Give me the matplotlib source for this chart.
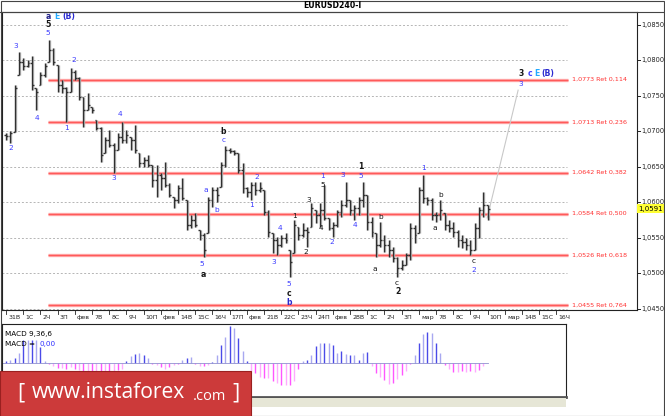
import matplotlib
matplotlib.use('Agg')
import matplotlib.pyplot as plt
import numpy as np
from matplotlib.patches import Rectangle
from matplotlib.transforms import blended_transform_factory

W, H = 665, 416

# EURUSD H4 bars
highs = [1.0698, 1.0700, 1.0765, 1.0812, 1.0803, 1.0800, 1.0806, 1.0761, 1.0784, 1.0796,
         1.0829, 1.0817, 1.0793, 1.0772, 1.0762, 1.0789, 1.0786, 1.0777, 1.0748, 1.0754,
         1.0734, 1.0716, 1.0706, 1.0692, 1.0702, 1.0684, 1.0698, 1.0713, 1.0702, 1.0692,
         1.0709, 1.0669, 1.0664, 1.0667, 1.0653, 1.0653, 1.0641, 1.0657, 1.0627, 1.0607,
         1.0624, 1.0634, 1.0603, 1.0582, 1.0585, 1.0561, 1.0557, 1.0607, 1.0622, 1.0622,
         1.0657, 1.0679, 1.0677, 1.0674, 1.0669, 1.0655, 1.0622, 1.0629, 1.0629, 1.0629,
         1.0617, 1.0589, 1.0557, 1.0551, 1.0554, 1.0557, 1.0533, 1.0575, 1.0565, 1.0571,
         1.0565, 1.0599, 1.0589, 1.0599, 1.0624, 1.0578, 1.0572, 1.0589, 1.0603, 1.0629,
         1.0603, 1.0596, 1.0607, 1.0629, 1.0610, 1.0579, 1.0557, 1.0572, 1.0554, 1.0547,
         1.0537, 1.0523, 1.0519, 1.0529, 1.0571, 1.0568, 1.0622, 1.0639, 1.0607, 1.0606,
         1.0586, 1.0603, 1.0585, 1.0575, 1.0572, 1.0561, 1.0554, 1.0550, 1.0547, 1.0571,
         1.0593, 1.0615, 1.0596]
lows = [1.0688, 1.0684, 1.0699, 1.0779, 1.0786, 1.0791, 1.0758, 1.0730, 1.0765, 1.0777,
        1.0798, 1.0793, 1.0755, 1.0754, 1.0713, 1.0755, 1.0772, 1.0744, 1.0706, 1.0730,
        1.0726, 1.0702, 1.0657, 1.0669, 1.0678, 1.0641, 1.0674, 1.0684, 1.0684, 1.0674,
        1.0669, 1.0650, 1.0650, 1.0650, 1.0622, 1.0607, 1.0617, 1.0622, 1.0607, 1.0592,
        1.0599, 1.0603, 1.0561, 1.0564, 1.0565, 1.0547, 1.0523, 1.0557, 1.0593, 1.0600,
        1.0622, 1.0650, 1.0669, 1.0667, 1.0641, 1.0613, 1.0607, 1.0603, 1.0610, 1.0615,
        1.0582, 1.0551, 1.0529, 1.0526, 1.0537, 1.0543, 1.0495, 1.0529, 1.0547, 1.0551,
        1.0537, 1.0565, 1.0571, 1.0565, 1.0575, 1.0561, 1.0551, 1.0565, 1.0579, 1.0593,
        1.0582, 1.0575, 1.0582, 1.0593, 1.0561, 1.0551, 1.0523, 1.0537, 1.0530, 1.0523,
        1.0516, 1.0495, 1.0505, 1.0512, 1.0519, 1.0543, 1.0557, 1.0599, 1.0596, 1.0575,
        1.0572, 1.0575, 1.0561, 1.0558, 1.0551, 1.0537, 1.0536, 1.0533, 1.0526, 1.0533,
        1.0550, 1.0579, 1.0575]
closes = [1.0693, 1.0698, 1.0761, 1.0798, 1.0792, 1.0796, 1.0765, 1.0755, 1.0779, 1.0792,
          1.0815, 1.0798, 1.0765, 1.0761, 1.0755, 1.0784, 1.0775, 1.0748, 1.0730, 1.0737,
          1.0730, 1.0705, 1.0667, 1.0688, 1.0681, 1.0674, 1.0692, 1.0688, 1.0695, 1.0688,
          1.0674, 1.0655, 1.0660, 1.0653, 1.0631, 1.0639, 1.0634, 1.0624, 1.0610, 1.0603,
          1.0620, 1.0606, 1.0568, 1.0575, 1.0568, 1.0554, 1.0533, 1.0603, 1.0617, 1.0610,
          1.0653, 1.0674, 1.0672, 1.0669, 1.0646, 1.0620, 1.0615, 1.0624, 1.0617, 1.0620,
          1.0586, 1.0558, 1.0547, 1.0540, 1.0550, 1.0547, 1.0516, 1.0568, 1.0554, 1.0561,
          1.0558, 1.0592, 1.0582, 1.0589, 1.0578, 1.0564, 1.0568, 1.0586, 1.0596, 1.0603,
          1.0589, 1.0592, 1.0603, 1.0610, 1.0572, 1.0558, 1.0540, 1.0547, 1.0540, 1.0533,
          1.0522, 1.0508, 1.0512, 1.0526, 1.0564, 1.0554, 1.0617, 1.0606, 1.0603, 1.0582,
          1.0582, 1.0589, 1.0568, 1.0564, 1.0558, 1.0547, 1.0544, 1.0540, 1.0533, 1.0564,
          1.0589, 1.0596, 1.0591]

# MACD(9,36,6) histogram, same bars
macd = [2, 3, 5, 10, 23, 23, 23, 23, 16, 2,
        -1, -3, -5, -5, -6, -4, -6, -7, -8, -9,
        -9, -9, -8, -8, -8, -8, -7, -6, 2, 7,
        9, 10, 8, 5, -1, -2, -4, -6, -4, -2,
        -1, 3, 5, 6, -1, -3, -3, -2, 1, 8,
        18, 26, 37, 35, 25, 12, 2, -8, -10, -14,
        -15, -15, -18, -20, -22, -22, -22, -18, -6, 2,
        3, 8, 17, 20, 20, 20, 18, 10, 12, 9,
        8, 8, 3, 10, 11, -3, -10, -14, -17, -21,
        -20, -16, -12, -8, -1, 8, 20, 29, 31, 30,
        20, 10, -2, -6, -9, -9, -8, -9, -8, -9,
        -7, -3, 0]

date_labels = ['31В', '1С', '2Ч', '3П', 'фев', '7В', '8С', '9Ч', '10П', 'фев', '14В',
               '15С', '16Ч', '17П', 'фев', '21В', '22С', '23Ч', '24П', 'фев', '28В',
               '1С', '2Ч', '3П', 'мар', '7В', '8С', '9Ч', '10П', 'мар', '14В', '15С', '16Ч']
price_ticks = [1.0450, 1.0500, 1.0550, 1.0600, 1.0650, 1.0700, 1.0750, 1.0800, 1.0850]
fib_levels = [1.0773, 1.0713, 1.0642, 1.0584, 1.0526, 1.0455]
fib_ratios = ['0,114', '0,236', '0,382', '0,500', '0,618', '0,764']
last_price = 1.0591
proj_x = [111.9, 119.1]
proj_y = [1.0578, 1.0758]

BLUE, BLK, CYAN = '#3b3bff', '#151515', '#22aaff'
# (bar, price, text, colour, bold)
waves = [
    (1.2, 1.0677, '2', BLUE, False), (2.3, 1.0820, '3', BLUE, False),
    (7.2, 1.0719, '4', BLUE, False), (9.8, 1.0839, '5', BLUE, False),
    (9.8, 1.0851, '5', BLK, True), (9.8, 1.0862, 'a', '#20208a', True),
    (11.9, 1.0862, 'E', CYAN, True), (14.7, 1.0862, '(B)', '#2a2ad0', True),
    (14.0, 1.0705, '1', BLUE, False), (15.8, 1.0800, '2', BLUE, False),
    (25.1, 1.0634, '3', BLUE, False), (26.5, 1.0724, '4', BLUE, False),
    (50.5, 1.0700, 'b', BLK, True), (50.5, 1.0688, 'c', BLUE, False),
    (46.5, 1.0617, 'a', BLUE, False), (49.1, 1.0589, 'b', BLUE, False),
    (45.6, 1.0513, '5', BLUE, False), (45.8, 1.0499, 'a', BLK, True),
    (58.4, 1.0636, '2', BLUE, False), (57.2, 1.0596, '1', BLUE, False),
    (63.7, 1.0564, '4', BLUE, False), (62.3, 1.0516, '3', BLUE, False),
    (65.8, 1.0485, '5', BLUE, False), (65.8, 1.0472, 'c', BLK, True),
    (65.8, 1.0459, 'b', '#2a2ad0', True),
    (67.2, 1.0581, '1', BLK, False), (69.8, 1.0530, '2', BLK, False),
    (70.5, 1.0603, '3', BLK, False), (73.3, 1.0564, '4', BLK, False),
    (73.7, 1.0637, '1', BLUE, False), (73.7, 1.0624, '5', BLK, False),
    (75.8, 1.0544, '2', BLUE, False), (78.4, 1.0639, '3', BLUE, False),
    (81.2, 1.0568, '4', BLUE, False), (82.6, 1.0637, '5', BLUE, False),
    (82.6, 1.0650, '1', BLK, True), (87.2, 1.0579, 'b', BLK, False),
    (85.8, 1.0506, 'a', BLK, False), (90.9, 1.0487, 'c', BLK, False),
    (91.2, 1.0475, '2', BLK, True), (97.0, 1.0648, '1', BLUE, False),
    (99.8, 1.0564, 'a', BLK, False), (101.2, 1.0610, 'b', BLK, False),
    (108.8, 1.0518, 'c', BLK, False), (108.8, 1.0505, '2', BLUE, False),
    (119.8, 1.0767, '3', BLUE, False), (119.8, 1.0782, '3', BLK, True),
    (121.9, 1.0782, 'c', BLUE, True), (123.5, 1.0782, 'E', CYAN, True),
    (126.0, 1.0782, '(B)', '#2a2ad0', True),
]

n = len(closes)
idx = np.arange(n)
opens = np.clip([1.0695] + closes[:-1], lows, highs)

def px(x0, y0, x1, y1):
    return [x0 / W, 1 - y1 / H, (x1 - x0) / W, (y1 - y0) / H]

fig = plt.figure(figsize=(W / 100, H / 100), dpi=100)
fig.patch.set_facecolor('white')

# main price window
ax = fig.add_axes(px(2, 12, 637, 310))
x_left = (2 - 6) / 4.3
ax.set_xlim(x_left, (637 - 6) / 4.3)
ax.set_ylim(1.0885 - 0.00014085 * 310, 1.0885 - 0.00014085 * 12)
for s in ax.spines.values():
    s.set_color('#222222')
    s.set_linewidth(0.8)

grid_end = 130.5
for p in price_ticks:
    ax.plot([x_left, grid_end], [p, p], color='#b5b5b5', lw=0.7, ls=(0, (2, 2)), zorder=1)

for lev, r in zip(fib_levels, fib_ratios):
    ax.plot([9.8, 130.7], [lev, lev], color='#ffb0b0', lw=2.4, zorder=2, solid_capstyle='butt')
    ax.plot([9.8, 130.7], [lev, lev], color='#ff5a5a', lw=1.0, zorder=2, solid_capstyle='butt')
    ax.text(131.6, lev, '%s Ret %s' % (('%.4f' % lev).replace('.', ','), r),
            fontsize=4.6, color='#ff3030', va='center', ha='left')

# OHLC bars with light shadow
ax.vlines(idx + 0.25, lows, highs, color='#b8b8b8', lw=1.0, zorder=3)
ax.vlines(idx, lows, highs, color='#303030', lw=1.0, zorder=4)
ax.hlines(opens, idx - 0.4, idx, color='#303030', lw=1.0, zorder=4)
ax.hlines(closes, idx, idx + 0.45, color='#303030', lw=1.0, zorder=4)

ax.plot(proj_x, proj_y, color='#c8c8c8', lw=0.8, zorder=3)

for bx, by, t, c, b in waves:
    ax.text(bx, by, t, color=c, fontsize=5.3 if not b else 5.6,
            fontweight='bold' if b else 'normal', ha='center', va='center', zorder=6)

# price axis on the right
ax.set_yticks([])
ax.set_xticks([])
trans_y = blended_transform_factory(ax.transAxes, ax.transData)
for p in price_ticks:
    ax.plot([1.0, 1.005], [p, p], transform=trans_y, color='#222222', lw=0.7, clip_on=False)
    ax.text(1.006, p, ('%.4f' % p).replace('.', ','), transform=trans_y, fontsize=4.8,
            va='center', ha='left', color='#222222', clip_on=False)
ax.text(1.0015, last_price, ('%.4f' % last_price).replace('.', ','), transform=trans_y,
        fontsize=5.0, va='center', ha='left', color='black', clip_on=False,
        bbox=dict(boxstyle='square,pad=0.2', fc='#ffff33', ec='none'), zorder=10)

# date row
trans_x = blended_transform_factory(ax.transData, ax.transAxes)
for k, lab in enumerate(date_labels):
    b = 4 * k
    ax.plot([b, b], [0, -0.012], transform=trans_x, color='#222222', lw=0.6, clip_on=False)
    ax.text(b + 0.5, -0.018, lab, transform=trans_x, fontsize=4.5, ha='left', va='top',
            color='#222222', clip_on=False)

fig.text(332 / W, 1 - 6 / H, 'EURUSD240-I', fontsize=5.6, fontweight='bold',
         ha='center', va='center')

# MACD window
am = fig.add_axes(px(2, 324, 566, 397))
am.set_xlim(x_left, (566 - 6) / 4.3)
am.set_ylim(-34, 39)
am.set_xticks([])
am.set_yticks([])
for s in am.spines.values():
    s.set_color('#222222')
    s.set_linewidth(0.8)
am.spines['bottom'].set_linewidth(2.0)
am.spines['bottom'].set_color('#555555')
pos_c = ['#4a4ae8', '#a8a8f0']
neg_c = ['#ff55ff', '#ffaaff']
cols = [(pos_c if v >= 0 else neg_c)[i % 2] for i, v in enumerate(macd)]
am.vlines(idx, 0, macd, colors=cols, lw=1.0)
am.plot([x_left, n - 1], [0, 0], color='#9090d0', lw=0.6)
am.text(0.006, 0.86, 'MACD 9,36,6', transform=am.transAxes, fontsize=5.2, va='center')
am.text(0.006, 0.73, 'MACD =', transform=am.transAxes, fontsize=5.2, va='center')
am.text(0.066, 0.73, '0,00', transform=am.transAxes, fontsize=5.2, va='center', color='#3030ff')

# scroll strip and frame
fig.patches.append(Rectangle((0, 1 - 407 / H), 566 / W, 9 / H, transform=fig.transFigure,
                             fc='#e6e6d6', ec='none', zorder=0))
fig.patches.append(Rectangle((0.5 / W, 0.5 / H), (W - 1.5) / W, (H - 1.5) / H,
                             transform=fig.transFigure, fill=False, ec='#444444', lw=0.8))
fig.lines.append(plt.Line2D([0, 1], [1 - 11.5 / H, 1 - 11.5 / H], transform=fig.transFigure,
                            color='#444444', lw=0.8))

# instaforex banner
fig.patches.append(Rectangle((0, 0), 251 / W, 45 / H, transform=fig.transFigure,
                             fc='#cc3a3a', ec='#9a2020', lw=0.8, zorder=20))
fig.text(17 / W, 1 - 393 / H, '[', fontsize=16, color='white', ha='left', va='center',
         zorder=21, family='Open Sans')
fig.text(32 / W, 1 - 393 / H, 'www.instaforex', fontsize=15.2, color='white', ha='left',
         va='center', zorder=21, family='Open Sans')
fig.text(193 / W, 1 - 396 / H, '.com', fontsize=10.5, color='white', ha='left',
         va='center', zorder=21, family='Open Sans')
fig.text(232 / W, 1 - 393 / H, ']', fontsize=16, color='white', ha='left', va='center',
         zorder=21, family='Open Sans')

fig.savefig('out.png', dpi=100)
